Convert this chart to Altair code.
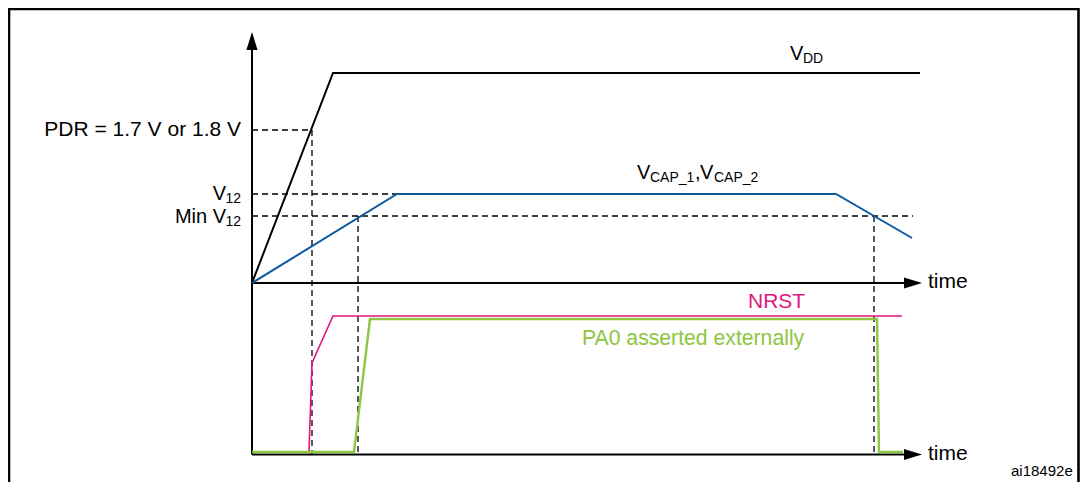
import altair as alt
import pandas as pd

FONT = "Liberation Sans"
BLACK = "#000000"
BLUE = "#0F5A9E"
MAGENTA = "#E2157F"
GREEN = "#8DC641"

# Signal traces: time in diagram units from the origin, level in diagram units above the upper time axis
vdd_t = [0, 81, 668]
vdd_v = [0, 210, 210]
vcap_t = [0, 145, 584, 660]
vcap_v = [0, 89, 89, 45]
nrst_t = [0, 57, 60, 81, 650]
nrst_v = [-169, -169, -80, -33, -33]
pa0_t = [0, 102, 118, 625, 627, 651]
pa0_v = [-169, -169, -36, -36, -169, -169]

# Threshold levels and crossing times
pdr_level = 153
v12_level = 89
minv12_level = 67
pdr_cross = 60
v12_reach = 145
minv12_cross_up = 106
minv12_cross_down = 622
minv12_dash_end = 661
low_axis = -171.5

# Axes
vaxis_top = 236
arrow_up_at = 242
time_axis_end = 655
arrow_right_at = 661

# Frame
frame_t = [-243, 826.5]
frame_v = [274, -240]

# Labels placed to the left of the vertical axis (right aligned)
left_text = ["PDR = 1.7 V or 1.8 V", "V", "12", "Min V", "12"]
left_t = [-11, -26, -11, -26, -11]
left_v = [147, 83, 80, 60, 57]
left_size = [21, 20, 14, 20, 14]

# Labels (left aligned)
right_text = ["V", "DD", "V", "CAP_1", ",", "V", "CAP_2", "NRST",
              "PA0 asserted externally", "time", "time", "ai18492e"]
right_t = [538, 551, 385, 398, 443, 448, 462, 496, 330, 676, 676, 759]
right_v = [223, 220, 104, 101, 104, 104, 101, -25, -62, -5, -177, -193]
right_size = [20, 14, 20, 14, 20, 20, 14, 21, 21.2, 21, 21, 15]
right_color = [BLACK, BLACK, BLACK, BLACK, BLACK, BLACK, BLACK, MAGENTA,
               GREEN, BLACK, BLACK, BLACK]

xs = alt.Scale(domain=[-244, 828], nice=False, zero=False)
ys = alt.Scale(domain=[-199, 275], nice=False, zero=False)


def X(f="t"):
    return alt.X(f"{f}:Q", scale=xs, axis=None)


def Y(f="v"):
    return alt.Y(f"{f}:Q", scale=ys, axis=None)


def trace(ts, vs, color, width):
    df = pd.DataFrame({"t": ts, "v": vs, "o": list(range(len(ts)))})
    return alt.Chart(df).mark_line(color=color, strokeWidth=width, strokeJoin="miter").encode(
        x=X(), y=Y(), order="o:Q")


frame = alt.Chart(pd.DataFrame({"t": [frame_t[0]], "t2": [frame_t[1]],
                                "v": [frame_v[0]], "v2": [frame_v[1]]})).mark_rect(
    filled=False, stroke=BLACK, strokeWidth=2.6).encode(
    x=X(), x2="t2:Q", y=Y(), y2="v2:Q")

axes_df = pd.DataFrame({
    "t": [0, 0, 0],
    "t2": [0, time_axis_end, time_axis_end],
    "v": [low_axis, 0, low_axis],
    "v2": [vaxis_top, 0, low_axis],
})
axes = alt.Chart(axes_df).mark_rule(color=BLACK, strokeWidth=2).encode(
    x=X(), x2="t2:Q", y=Y(), y2="v2:Q")

dash_df = pd.DataFrame({
    "t": [0, pdr_cross, 0, 0, minv12_cross_up, minv12_cross_down],
    "t2": [pdr_cross, pdr_cross, v12_reach, minv12_dash_end, minv12_cross_up, minv12_cross_down],
    "v": [pdr_level, pdr_level, v12_level, minv12_level, minv12_level, minv12_level],
    "v2": [pdr_level, low_axis, v12_level, minv12_level, low_axis, low_axis],
})
dashes = alt.Chart(dash_df).mark_rule(color=BLACK, strokeWidth=1.3, strokeDash=[6, 4]).encode(
    x=X(), x2="t2:Q", y=Y(), y2="v2:Q")

arrow_up = alt.Chart(pd.DataFrame({"t": [0], "v": [arrow_up_at]})).mark_point(
    shape="M0,-1L-0.62,1L0.62,1Z", filled=True, size=324, color=BLACK, opacity=1,
    strokeWidth=0).encode(x=X(), y=Y())
arrow_right = alt.Chart(pd.DataFrame({"t": [arrow_right_at, arrow_right_at],
                                      "v": [0, low_axis]})).mark_point(
    shape="M1,0L-1,-0.62L-1,0.62Z", filled=True, size=324, color=BLACK, opacity=1,
    strokeWidth=0).encode(x=X(), y=Y())

left_df = pd.DataFrame({"text": left_text, "t": left_t, "v": left_v, "size": left_size})
left_labels = alt.Chart(left_df).mark_text(align="right", baseline="alphabetic", font=FONT,
                                           color=BLACK).encode(
    x=X(), y=Y(), text="text:N", size=alt.Size("size:Q", scale=None))

right_df = pd.DataFrame({"text": right_text, "t": right_t, "v": right_v,
                         "size": right_size, "color": right_color})
right_labels = alt.Chart(right_df).mark_text(align="left", baseline="alphabetic", font=FONT).encode(
    x=X(), y=Y(), text="text:N", size=alt.Size("size:Q", scale=None),
    color=alt.Color("color:N", scale=None))

chart = alt.layer(
    frame, axes, dashes,
    trace(vdd_t, vdd_v, BLACK, 2),
    trace(vcap_t, vcap_v, BLUE, 2),
    trace(nrst_t, nrst_v, MAGENTA, 1.6),
    trace(pa0_t, pa0_v, GREEN, 2.4),
    arrow_up, arrow_right, left_labels, right_labels,
).properties(
    width=1072, height=474, autosize=alt.AutoSizeParams(type="none"), padding=0
).configure_view(stroke=None)

chart.save("out.html", embed_options={"renderer": "svg", "actions": False})
